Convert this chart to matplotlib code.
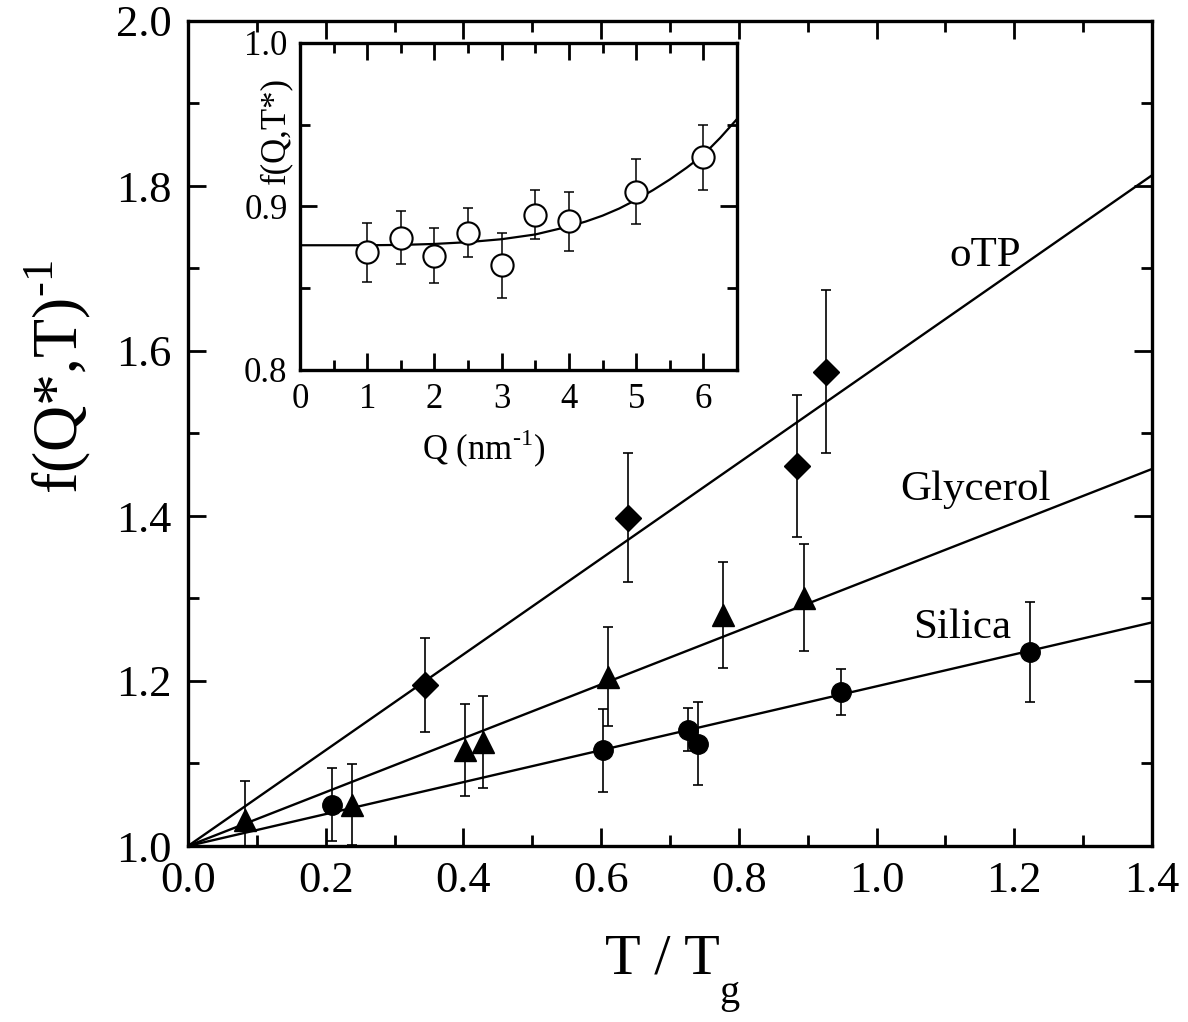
import numpy as np
from matplotlib import pyplot as plt
from matplotlib.ticker import MultipleLocator

plt.rcParams['font.family'] = ['Liberation Serif', 'DejaVu Serif']
plt.rcParams['mathtext.fontset'] = 'custom'
plt.rcParams['mathtext.rm'] = 'Liberation Serif'

# main panel: T/Tg vs 1/f(Q*,T)
silica_x = [0.209, 0.603, 0.726, 0.741, 0.948, 1.223]
silica_y = [1.050, 1.116, 1.141, 1.124, 1.187, 1.235]
silica_err = [0.044, 0.050, 0.026, 0.050, 0.028, 0.061]

glycerol_x = [0.083, 0.238, 0.402, 0.429, 0.610, 0.777, 0.894]
glycerol_y = [1.031, 1.050, 1.116, 1.126, 1.205, 1.280, 1.301]
glycerol_err = [0.048, 0.049, 0.056, 0.056, 0.060, 0.064, 0.065]

otp_x = [0.344, 0.639, 0.885, 0.927]
otp_y = [1.195, 1.398, 1.461, 1.575]
otp_err = [0.057, 0.078, 0.086, 0.099]

# fitted straight lines (start and end points)
line_x = [0.0, 1.4]
otp_line = [1.0, 1.813]
glycerol_line = [1.0, 1.457]
silica_line = [1.0, 1.271]

# inset: f(Q,T*) vs Q
q = [1, 1.5, 2, 2.5, 3, 3.5, 4, 5, 6]
fq = [0.872, 0.881, 0.870, 0.884, 0.864, 0.895, 0.891, 0.909, 0.930]
fq_err = [0.018, 0.016, 0.017, 0.015, 0.020, 0.015, 0.018, 0.020, 0.020]

# fit curve
curve_q = [0, 0.5, 1, 1.5, 2, 2.5, 3, 3.5, 4, 4.25, 4.5, 4.75, 5, 5.25, 5.5, 5.75, 6, 6.25, 6.5]
curve_f = [0.8763, 0.8763, 0.8763, 0.8765, 0.8771, 0.8782, 0.8800, 0.8829, 0.8878,
           0.8908, 0.8944, 0.8988, 0.9041, 0.9100, 0.9165, 0.9237, 0.9316, 0.9420, 0.9535]

W, H = 1188, 1022
fig = plt.figure(figsize=(W / 100, H / 100), dpi=100)


def px(x, y):
    return x / W, 1 - y / H


ax = fig.add_axes([188 / W, 1 - 846 / H, 964 / W, 825 / H])

for ys in (otp_line, glycerol_line, silica_line):
    ax.plot(line_x, ys, color='black', lw=1.7, zorder=2)

eb = dict(fmt='none', ecolor='black', elinewidth=1.2, capsize=3.5, capthick=1.2, zorder=3)
ax.errorbar(silica_x, silica_y, yerr=silica_err, **eb)
ax.errorbar(glycerol_x, glycerol_y, yerr=glycerol_err, **eb)
ax.errorbar(otp_x, otp_y, yerr=otp_err, **eb)

ax.plot(silica_x, silica_y, 'o', color='black', ms=14, zorder=4)
ax.plot(glycerol_x, glycerol_y, '^', color='black', ms=16, zorder=4)
ax.plot(otp_x, otp_y, 'D', color='black', ms=13, zorder=4)

ax.set_xlim(0, 1.4)
ax.set_ylim(1.0, 2.0)
ax.xaxis.set_major_locator(MultipleLocator(0.2))
ax.xaxis.set_minor_locator(MultipleLocator(0.1))
ax.yaxis.set_major_locator(MultipleLocator(0.2))
ax.yaxis.set_minor_locator(MultipleLocator(0.1))
ax.set_xticklabels([f'{v:.1f}' for v in ax.get_xticks()])
ax.set_yticklabels([f'{v:.1f}' for v in ax.get_yticks()])
ax.tick_params(which='both', direction='in', top=True, right=True, width=2)
ax.tick_params(which='major', length=13, labelsize=32)
ax.tick_params(axis='x', which='major', pad=11)
ax.tick_params(axis='y', which='major', pad=12)
ax.tick_params(which='minor', length=8)
for s in ax.spines.values():
    s.set_linewidth(2.4)

fig.text(*px(985, 256), 'oTP', fontsize=31, ha='center', va='center')
fig.text(*px(975, 490), 'Glycerol', fontsize=31, ha='center', va='center')
fig.text(*px(962, 628), 'Silica', fontsize=31, ha='center', va='center')

fig.text(*px(662, 960), 'T / T', fontsize=42, ha='center', va='center')
fig.text(*px(729, 993), 'g', fontsize=29, ha='center', va='center')
fig.text(*px(58, 377), 'f(Q*,T)$^\\mathregular{\u20101}$', fontsize=46, ha='center', va='center',
         rotation=90)

# inset
axi = fig.add_axes([300 / W, 1 - 370 / H, 437 / W, 327 / H])
axi.plot(curve_q, curve_f, color='black', lw=1.6, zorder=2)
axi.errorbar(q, fq, yerr=fq_err, fmt='none', ecolor='black', elinewidth=1.1,
             capsize=3.5, capthick=1.1, zorder=3)
axi.plot(q, fq, 'o', mfc='white', mec='black', mew=1.5, ms=16, zorder=4)
axi.set_xlim(0, 6.5)
axi.set_ylim(0.8, 1.0)
axi.xaxis.set_major_locator(MultipleLocator(1))
axi.xaxis.set_minor_locator(MultipleLocator(0.5))
axi.yaxis.set_major_locator(MultipleLocator(0.1))
axi.yaxis.set_minor_locator(MultipleLocator(0.05))
axi.set_yticklabels([f'{v:.1f}' for v in axi.get_yticks()])
axi.tick_params(which='both', direction='in', top=True, right=True, width=2)
axi.tick_params(which='major', length=12, labelsize=25, pad=9)
axi.tick_params(which='minor', length=7)
for s in axi.spines.values():
    s.set_linewidth(2.4)

fig.text(*px(484, 449), 'Q (nm$^\\mathregular{\u20101}$)', fontsize=25, ha='center', va='center')
fig.text(*px(276, 130), 'f(Q,T*)', fontsize=25, ha='center', va='center', rotation=90)

fig.savefig('out.png', dpi=100)
